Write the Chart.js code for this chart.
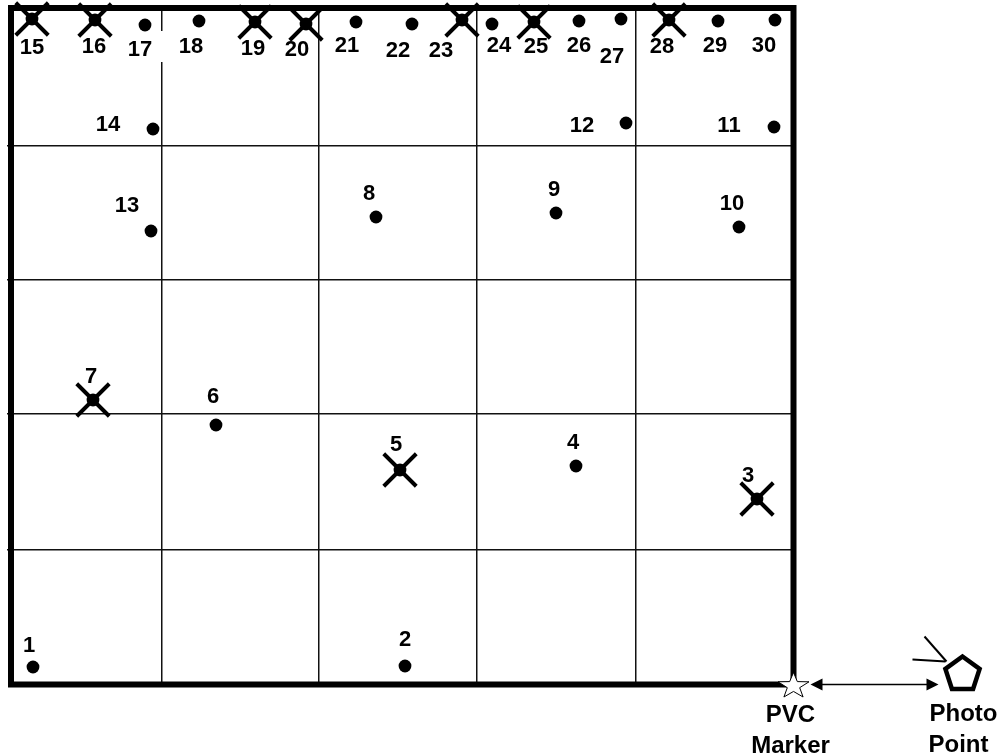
<!DOCTYPE html>
<html>
<head>
<meta charset="utf-8">
<style>html,body{margin:0;padding:0;background:#fff}canvas{display:block}</style>
<script src="https://cdn.jsdelivr.net/npm/chart.js@4"></script>
</head>
<body>
<canvas id="c" width="999" height="756"></canvas>
<script>
const plotNumbers = [1,2,3,4,5,6,7,8,9,10,11,12,13,14,15,16,17,18,19,20,21,22,23,24,25,26,27,28,29,30];
const plotX = [22,394,746,565,389,205,82,365,545,728,763,615,140,142,21,84,134,188,244,295,345,401,451,481,523,568,610,658,707,764];
const plotY = [17.5,18.5,185.5,218.5,214.5,259.5,284.5,467.5,471.5,457.5,557.5,561.5,453.5,555.5,665.5,664.5,659.5,663.5,662.5,660.5,662.5,660.5,664.5,660.5,662.5,663.5,665.5,664.5,663.5,664.5];
const crossedNumbers = [3,5,7,15,16,19,20,23,25,28];
const xGrid = [151,308,466,625];
const yGrid = [134.5,270.5,404.5,538.5];
const xMax = 782.5;
const yMax = 676.5;
const frameX = [0,xMax,xMax,0,0];
const frameY = [0,0,yMax,yMax,0];
const markerLabel = ["PVC","Marker"];
const photoLabel = ["Photo","Point"];
const labelDx = [-4,0,-9,-3,-4,-3,-2,-7,-2,-7,-45,-44,-24,-45,0,-1,-5,-8,-2,-9,-9,-14,-21,7,2,0,-9,-7,-3,-11];
const labelDy = [-23,-28,-25,-25,-27,-30,-25,-25,-25,-25,-3,1,-27,-6,27,25,23,24,25,24,22,25,29,20,23,23,36,25,23,24];

const FONT = 'bold 22px "Liberation Sans", Arial, sans-serif';
const FONT2 = 'bold 24px "Liberation Sans", Arial, sans-serif';

function poly(ctx, cx, cy, n, r, rot) {
  ctx.beginPath();
  for (let i = 0; i < n; i++) {
    const a = -Math.PI/2 + rot + i*2*Math.PI/n;
    const x = cx + r*Math.cos(a), y = cy + r*Math.sin(a);
    i ? ctx.lineTo(x,y) : ctx.moveTo(x,y);
  }
  ctx.closePath();
}
function star(ctx, cx, cy, Rx, Ry, inner) {
  ctx.beginPath();
  for (let i = 0; i < 10; i++) {
    const a = -Math.PI/2 + i*Math.PI/5, q = i%2 ? inner : 1;
    const x = cx + q*Rx*Math.cos(a), y = cy + q*Ry*Math.sin(a);
    i ? ctx.lineTo(x,y) : ctx.moveTo(x,y);
  }
  ctx.closePath();
}
function seg(ctx, x1, y1, x2, y2, w) {
  ctx.lineWidth = w;
  ctx.beginPath(); ctx.moveTo(x1,y1); ctx.lineTo(x2,y2); ctx.stroke();
}
function head(ctx, tipX, y, dir) {
  ctx.beginPath();
  ctx.moveTo(tipX, y);
  ctx.lineTo(tipX + dir*12, y-6);
  ctx.lineTo(tipX + dir*12, y+6);
  ctx.closePath(); ctx.fill();
}

const gridGap = {
  id: 'gridGap',
  beforeDatasetsDraw(chart) {
    const {ctx, scales:{x,y}} = chart;
    ctx.save();
    ctx.fillStyle = '#fff';
    ctx.fillRect(x.getPixelForValue(xGrid[0]) - 4, y.getPixelForValue(yMax) + 23, 8, 31);
    ctx.restore();
  }
};

const annotations = {
  id: 'annotations',
  afterDraw(chart) {
    const {ctx, scales:{x,y}} = chart;
    ctx.save();
    ctx.fillStyle = '#000';
    ctx.strokeStyle = '#000';
    ctx.textAlign = 'center';
    ctx.textBaseline = 'middle';
    ctx.font = FONT;
    plotNumbers.forEach((n,i) => {
      ctx.fillText(String(n),
        x.getPixelForValue(plotX[i]) + labelDx[i],
        y.getPixelForValue(plotY[i]) + labelDy[i] + 2);
    });
    const px = x.getPixelForValue(xMax), py = y.getPixelForValue(0);
    // PVC marker star
    star(ctx, px, py + 1.5, 16.3, 13.6, 0.4);
    ctx.fillStyle = '#fff'; ctx.fill();
    ctx.lineWidth = 1; ctx.lineJoin = 'miter'; ctx.stroke();
    // double arrow
    ctx.fillStyle = '#000';
    seg(ctx, px + 20, py, px + 140, py, 1.3);
    head(ctx, px + 17, py, 1);
    head(ctx, px + 145, py, -1);
    // photo point
    const cx = px + 169, cy = py - 10;
    poly(ctx, cx, cy, 5, 18, 0);
    ctx.lineWidth = 4.5; ctx.stroke();
    seg(ctx, px + 131, py - 48, px + 153, py - 23, 2);
    seg(ctx, px + 119, py - 25, px + 152, py - 23, 2);
    // captions
    ctx.font = FONT2;
    ctx.textBaseline = 'alphabetic';
    ctx.fillText(markerLabel[0], px - 3, py + 37);
    ctx.fillText(markerLabel[1], px - 3, py + 68);
    ctx.fillText(photoLabel[0], cx + 1, py + 36);
    ctx.fillText(photoLabel[1], cx - 4, py + 67);
    ctx.restore();
  }
};

const allPoints = plotNumbers.map((n,i) => ({x: plotX[i], y: plotY[i]}));
const crossedPoints = allPoints.filter((p,i) => crossedNumbers.includes(plotNumbers[i]));
const framePoints = frameX.map((v,i) => ({x: v, y: frameY[i]}));

new Chart(document.getElementById('c'), {
  type: 'scatter',
  data: {
    datasets: [
      {
        label: 'Plot frame', data: framePoints, showLine: true, order: 0,
        borderColor: '#000', borderWidth: 6, pointRadius: 0, fill: false,
        tension: 0, clip: false, borderJoinStyle: 'miter', borderCapStyle: 'square'
      },
      {
        label: 'Plots', data: allPoints, order: 2,
        pointStyle: 'circle', pointRadius: 6.4, backgroundColor: '#000',
        borderColor: '#000', borderWidth: 0, clip: false
      },
      {
        label: 'Crossed plots', data: crossedPoints, order: 1,
        pointStyle: 'crossRot', pointRadius: 23, borderColor: '#000',
        borderWidth: 4, backgroundColor: '#000', clip: false
      }
    ]
  },
  plugins: [gridGap, annotations],
  options: {
    responsive: false,
    animation: false,
    events: [],
    layout: { autoPadding: false, padding: { left: 7, top: 8, right: 205.5, bottom: 71.5 } },
    plugins: { legend: { display: false }, tooltip: { enabled: false }, title: { display: false } },
    scales: {
      x: {
        type: 'linear', min: 0, max: xMax,
        afterBuildTicks(s) { s.ticks = xGrid.map(v => ({value: v})); },
        ticks: { display: false },
        grid: { color: '#111', lineWidth: 1.5, drawTicks: false },
        border: { display: false }
      },
      y: {
        type: 'linear', min: 0, max: yMax,
        afterBuildTicks(s) { s.ticks = yGrid.map(v => ({value: v})); },
        ticks: { display: false },
        grid: { color: '#111', lineWidth: 1.5, drawTicks: true, tickLength: 4 },
        border: { display: false }
      }
    }
  }
});
</script>
</body>
</html>
